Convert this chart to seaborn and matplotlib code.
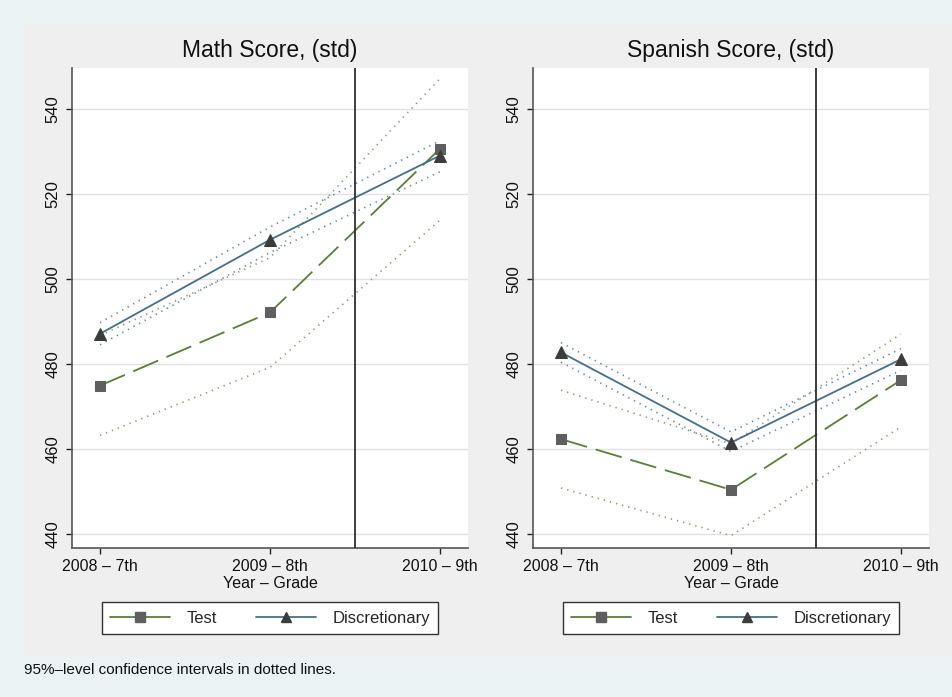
import numpy as np
import pandas as pd
import matplotlib
matplotlib.use("Agg")
import matplotlib.pyplot as plt
import matplotlib.patches as mpatches
from matplotlib.lines import Line2D
import seaborn as sns

# Data
years = ['2008 – 7th', '2009 – 8th', '2010 – 9th']

math_test = [474.9, 492.1, 530.6]
math_test_lo = [463.2, 479.2, 513.8]
math_test_hi = [486.7, 505.0, 547.1]
math_disc = [487.1, 509.2, 529.0]
math_disc_lo = [484.5, 506.2, 525.2]
math_disc_hi = [489.7, 512.2, 532.5]

spanish_test = [462.3, 450.4, 476.2]
spanish_test_lo = [450.8, 439.6, 465.2]
spanish_test_hi = [473.8, 461.2, 487.0]
spanish_disc = [482.7, 461.5, 481.1]
spanish_disc_lo = [480.4, 459.4, 478.5]
spanish_disc_hi = [485.0, 464.0, 483.6]

titles = ['Math Score, (std)', 'Spanish Score, (std)']
y_ticks = [440, 460, 480, 500, 520, 540]

# Colors
TEST_COLOR = '#5b7f34'
DISC_COLOR = '#44708f'
TEST_CI = '#8c9e66'
DISC_CI = '#5f88a8'

sns.set_theme(style='white')
plt.rcParams['font.family'] = ['Liberation Sans', 'DejaVu Sans']

fig = plt.figure(figsize=(9.52, 6.97), dpi=100)
fig.patch.set_facecolor('#eaf2f3')
# inner gray graph region
fig.add_artist(mpatches.Rectangle((24 / 952, 40 / 697), 1 - 24 / 952, (657 - 22) / 697,
                                  transform=fig.transFigure, facecolor='#efefef',
                                  edgecolor='none', zorder=0))

ax_left = fig.add_axes([72 / 952, 149 / 697, 396 / 952, 480 / 697])
ax_right = fig.add_axes([533 / 952, 149 / 697, 396 / 952, 480 / 697])

panels = [
    (ax_left, math_test, math_test_lo, math_test_hi, math_disc, math_disc_lo, math_disc_hi),
    (ax_right, spanish_test, spanish_test_lo, spanish_test_hi, spanish_disc, spanish_disc_lo, spanish_disc_hi),
]

xpos = np.arange(len(years))

for i, (ax, t, tlo, thi, d, dlo, dhi) in enumerate(panels):
    ax.set_facecolor('white')
    ax.set_zorder(2)

    # confidence intervals (dotted)
    for vals, col in [(tlo, TEST_CI), (thi, TEST_CI), (dlo, DISC_CI), (dhi, DISC_CI)]:
        sns.lineplot(x=xpos, y=vals, ax=ax, color=col, linewidth=1.2,
                     dashes=False, zorder=3)
        ax.lines[-1].set_dashes((0.8, 3.0))

    # main series
    sns.lineplot(x=xpos, y=t, ax=ax, color=TEST_COLOR, linewidth=1.3, zorder=4)
    ax.lines[-1].set_dashes((15, 5))
    ax.lines[-1].set_marker('s')
    ax.lines[-1].set_markersize(7)
    ax.lines[-1].set_markerfacecolor('#5f5f5f')
    ax.lines[-1].set_markeredgecolor('#5f5f5f')

    sns.lineplot(x=xpos, y=d, ax=ax, color=DISC_COLOR, linewidth=1.3, zorder=5,
                 marker='^', markersize=8, markerfacecolor='#3c3c3c',
                 markeredgecolor='#3c3c3c')

    # cutoff line
    ax.axvline(1.5, color='#2e2e2e', linewidth=1.3, zorder=6)

    ax.set_xlim(-0.165, 2.165)
    ax.set_ylim(436.7, 549.6)
    ax.set_xticks(xpos)
    ax.set_xticklabels(years, fontsize=11.5, color='#111111')
    ax.set_yticks(y_ticks)
    ax.set_yticklabels([str(v) for v in y_ticks], fontsize=12, rotation=90,
                       va='center', color='#111111')
    ax.grid(axis='y', color='#e2e2e2', linewidth=1.0)
    ax.set_axisbelow(True)
    ax.tick_params(axis='both', direction='out', length=4, width=1, color='#222222',
                   left=True, bottom=True, pad=4)
    for side in ['top', 'right']:
        ax.spines[side].set_visible(False)
    for side in ['left', 'bottom']:
        ax.spines[side].set_color('#555555')
        ax.spines[side].set_linewidth(1.2)

    ax.set_title(titles[i], fontsize=16.5, color='#111111', pad=8)
    ax.set_xlabel('Year – Grade', fontsize=11.5, color='#111111', labelpad=1)
    ax.set_ylabel('')

    handles = [
        Line2D([], [], color=TEST_COLOR, linewidth=1.3, marker='s', markersize=7,
               markerfacecolor='#5f5f5f', markeredgecolor='#5f5f5f'),
        Line2D([], [], color=DISC_COLOR, linewidth=1.3, marker='^', markersize=7,
               markerfacecolor='#3c3c3c', markeredgecolor='#3c3c3c'),
    ]
    leg = ax.legend(handles, ['Test', 'Discretionary'], loc='center',
                    bbox_to_anchor=(0.5, -0.146), ncol=2, fontsize=12,
                    frameon=True, fancybox=False, framealpha=1, edgecolor='#333333',
                    handlelength=3.6, handletextpad=1.0, columnspacing=2.3,
                    borderpad=0.5)
    leg.get_frame().set_linewidth(1.0)

fig.text(24 / 952, 1 - 670 / 697, '95%–level confidence intervals in dotted lines.',
         fontsize=11, color='#111111', va='center', ha='left')

fig.savefig('out.png', dpi=100, facecolor=fig.get_facecolor())
